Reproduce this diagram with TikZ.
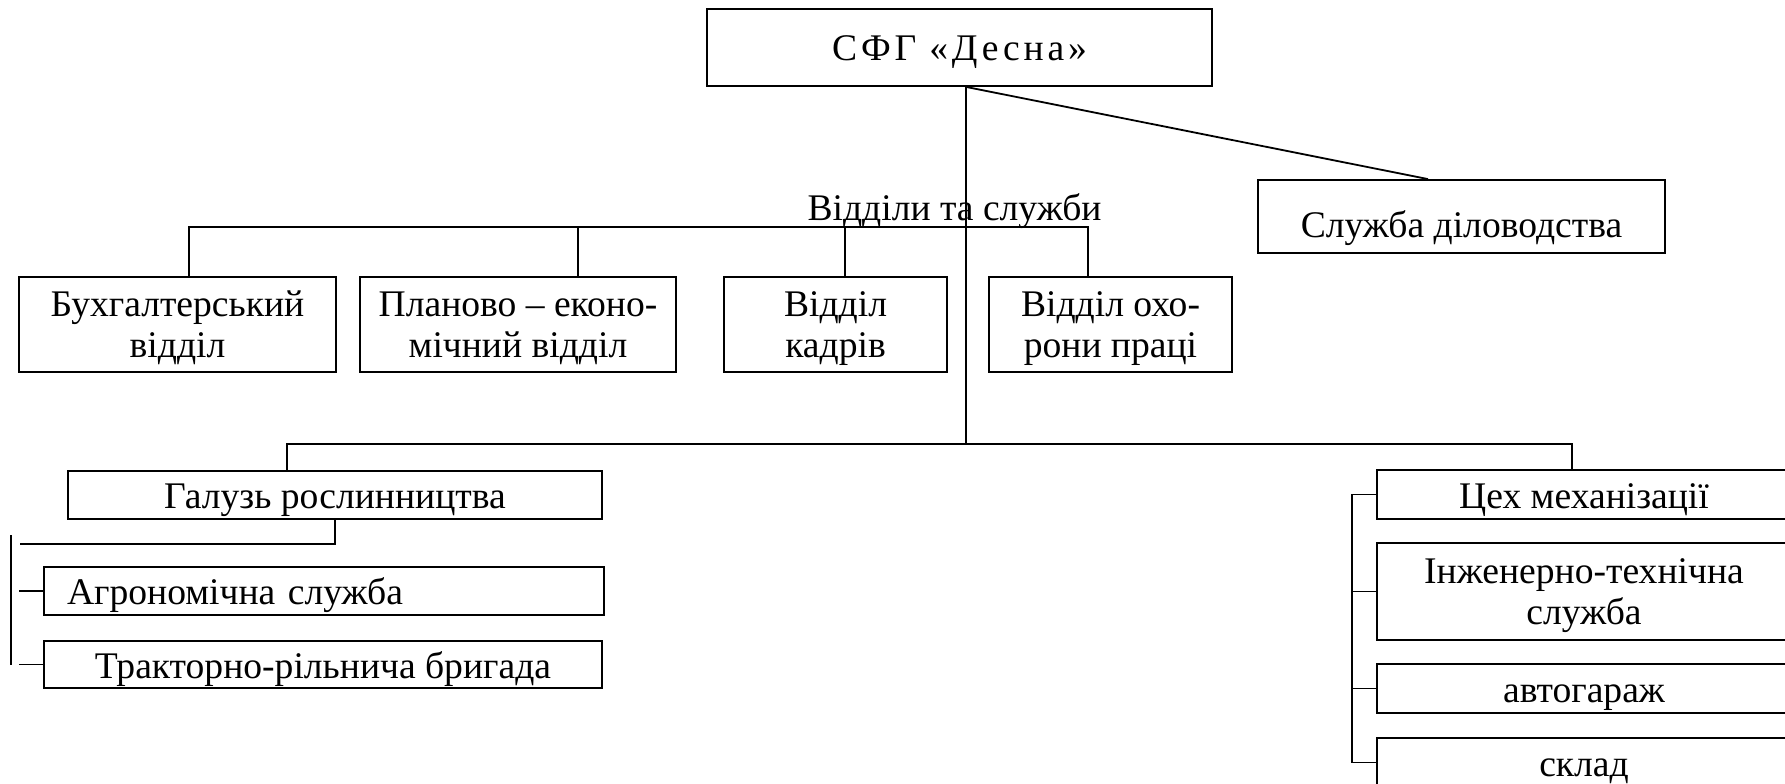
\documentclass[tikz,border=0pt]{standalone}
\usepackage{fontspec}
\setmainfont{Liberation Serif}
\usetikzlibrary{positioning}

\begin{document}
\begin{tikzpicture}[x=1pt, y=-1pt, line width=1.8pt,
    txt/.style={font=\fontsize{37.6pt}{41pt}\selectfont},
    box/.style={txt, draw, align=center, inner sep=0pt, text depth=0pt},
    single/.style={box, text height=27pt}]

  \useasboundingbox (0,0) rectangle (1785,784);

  % Керівництво
  \node[single, minimum width=505pt, minimum height=77pt,
        font=\fontsize{37.6pt}{41pt}\selectfont\addfontfeature{LetterSpace=10}] (desna) at (959.5,47.5) {СФГ «Десна»};
  \node[single, minimum width=407pt, minimum height=73pt, text height=41pt] (sluzhba) at (1461.5,216.5) {Служба діловодства};

  % Відділи та служби
  \node[txt, anchor=base] (vs) at (954.5,220) {Відділи та служби};
  \node[box, minimum width=317pt, minimum height=95pt] (buh) at (177.5,324.5) {Бухгалтерський\\відділ};
  \node[box, minimum width=316pt, minimum height=95pt] (plan) at (518,324.5) {Планово – еконо-\\мічний відділ};
  \node[box, minimum width=223pt, minimum height=95pt] (kadry) at (835.5,324.5) {Відділ\\кадрів};
  \node[box, minimum width=243pt, minimum height=95pt] (ohorona) at (1110.5,324.5) {Відділ охо-\\рони праці};

  % Рослинництво
  \node[single, minimum width=534pt, minimum height=48pt] (roslyn) at (335,495) {Галузь рослинництва};
  \node[single, minimum height=48pt, text width=514pt, align=left, inner xsep=23pt] (agro) at (324,591) {Агрономічна служба};
  \node[single, minimum width=558pt, minimum height=47pt] (traktor) at (323,664.5) {Тракторно-рільнича бригада};

  % Механізація
  \node[single, minimum width=414pt, minimum height=49pt] (ceh) at (1584,494.5) {Цех механізації};
  \node[box, minimum width=414pt, minimum height=97pt] (inzh) at (1584,591.5) {Інженерно-технічна\\служба};
  \node[single, minimum width=414pt, minimum height=49pt] (garage) at (1584,688.5) {автогараж};
  \node[single, minimum width=414pt, minimum height=49pt] (sklad) at (1584,762.5) {склад};

  % Зв'язки
  \coordinate (v1) at ([xshift=6.5pt]desna.south);
  \coordinate (v2) at (v1 |- 0,445);
  \draw (v1) -- ([xshift=-33.5pt]sluzhba.north);
  \draw (v1) -- (v2);

  \draw ([xshift=11.5pt]buh.north) -- ++(0,-49) -| ([xshift=-22.5pt]ohorona.north);
  \draw ([xshift=60pt]plan.north) -- ++(0,-49);
  \draw ([xshift=9.5pt]kadry.north) -- ++(0,-49);

  \draw ([xshift=-48pt]roslyn.north) -- ++(0,-26) -| ([xshift=-12pt]ceh.north);

  \draw (roslyn.south) -- ++(0,24) -- ++(-315,0);
  \draw ([xshift=-32pt]traktor.west) -- ++(0,-129.5);
  \draw (agro.west) -- ++(-24,0);
  \draw (traktor.west) -- ++(-24,0);

  \draw (ceh.west) -- ++(-24,0) coordinate (rk) |- (sklad.west);
  \draw (inzh.west) -- (inzh.west -| rk);
  \draw (garage.west) -- (garage.west -| rk);

\end{tikzpicture}
\end{document}
